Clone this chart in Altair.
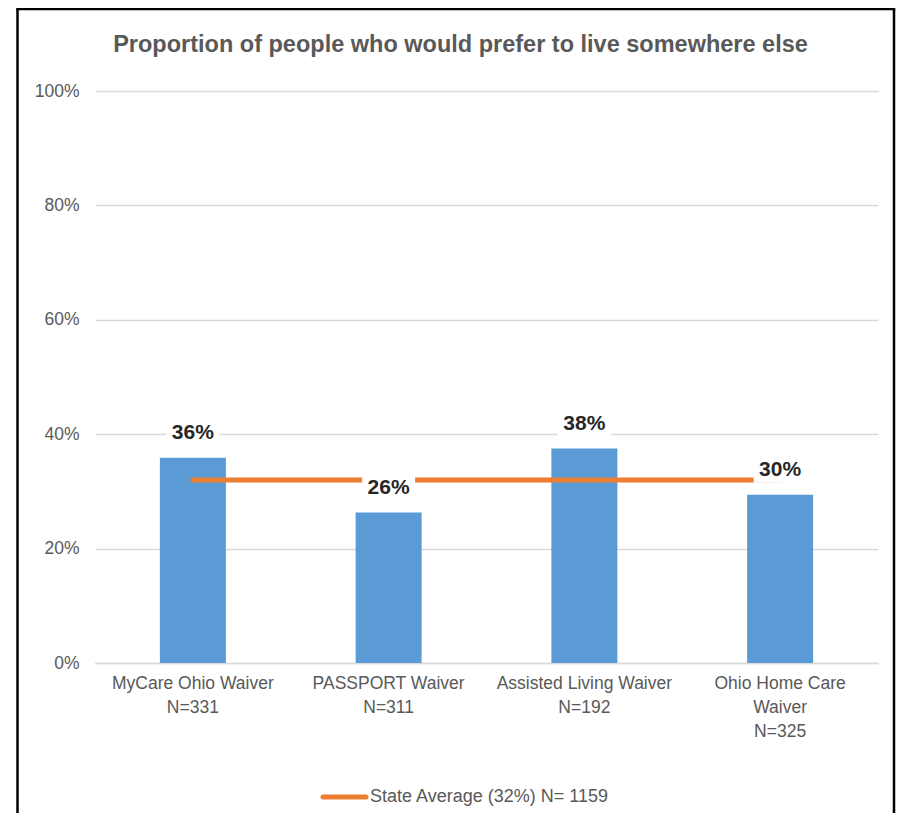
import altair as alt
import pandas as pd

categories = ["MyCare Ohio Waiver|N=331", "PASSPORT Waiver|N=311",
              "Assisted Living Waiver|N=192", "Ohio Home Care|Waiver|N=325"]
values = [0.359, 0.263, 0.375, 0.294]
labels = ["36%", "26%", "38%", "30%"]
state_avg = [0.32, 0.32, 0.32, 0.32]
y_ticks = [0, 0.2, 0.4, 0.6, 0.8, 1.0]
title_text = "Proportion of people who would prefer to live somewhere else"
legend_text = "State Average (32%) N= 1159"

FONT = "Liberation Sans, Arial"
W, H = 783, 572

df = pd.DataFrame({"cat": categories, "val": values, "lab": labels, "avg": state_avg})

xenc = alt.X("cat:N", sort=categories, title=None,
             scale=alt.Scale(paddingInner=0, paddingOuter=0),
             axis=alt.Axis(labelExpr="split(datum.label, '|')", labelAngle=0, labelLimit=0,
                           labelFont=FONT, labelFontSize=17.5, labelColor="#595959",
                           labelLineHeight=24, labelPadding=11, ticks=False,
                           domainColor="#D9D9D9", domainWidth=1.5))
yscale = alt.Scale(domain=[0, 1])

base = alt.Chart(df)

bars = base.mark_bar(color="#5B9BD5", width=66).encode(
    x=xenc,
    y=alt.Y("val:Q", scale=yscale, title=None,
            axis=alt.Axis(values=y_ticks, format=".0%", labelFont=FONT, labelFontSize=17.5,
                          labelColor="#595959", labelPadding=16, ticks=False, domain=False,
                          gridColor="#D9D9D9", gridWidth=1.5)),
)

line = base.mark_line(color="#ED7D31", strokeWidth=5, strokeCap="round").encode(
    x=alt.X("cat:N", sort=categories), y=alt.Y("avg:Q", scale=yscale))

boxes = base.mark_point(shape="M-1,-0.49L1,-0.49L1,0.49L-1,0.49Z", filled=True,
                        color="white", opacity=1, size=53 * 53, yOffset=-25).encode(
    x=alt.X("cat:N", sort=categories), y=alt.Y("val:Q", scale=yscale))

texts = base.mark_text(font=FONT, fontSize=21, fontWeight="bold", color="#262626",
                       baseline="middle", dy=-25).encode(
    x=alt.X("cat:N", sort=categories), y=alt.Y("val:Q", scale=yscale), text="lab:N")

one = alt.Data(values=[{"a": 1}])

title = alt.Chart(one).mark_text(font=FONT, fontSize=23.5, fontWeight="bold", color="#595959",
                                 baseline="middle", align="center").encode(
    x=alt.value(365.5), y=alt.value(-46), text=alt.value(title_text))

leg_line = alt.Chart(one).mark_rule(color="#ED7D31", strokeWidth=5, strokeCap="round").encode(
    x=alt.value(228), x2=alt.value(271), y=alt.value(706))
leg_text = alt.Chart(one).mark_text(font=FONT, fontSize=18, color="#595959",
                                    baseline="middle", align="left").encode(
    x=alt.value(275), y=alt.value(706), text=alt.value(legend_text))

frame_left = alt.Chart(one).mark_rule(color="black", strokeWidth=2.5).encode(
    x=alt.value(-77.5), y=alt.value(-82), y2=alt.value(800))
frame_top = alt.Chart(one).mark_rule(color="black", strokeWidth=2.5).encode(
    x=alt.value(-78.75), x2=alt.value(800.25), y=alt.value(-82))
frame_right = alt.Chart(one).mark_rule(color="black", strokeWidth=2.5).encode(
    x=alt.value(799), y=alt.value(-82), y2=alt.value(800))

chart = alt.layer(bars, line, boxes, texts, title, leg_line, leg_text,
                  frame_left, frame_top, frame_right).properties(
    width=W, height=H,
    autosize=alt.AutoSizeParams(type="none"),
    padding={"left": 87, "top": 83, "right": 18, "bottom": 150},
    background="white",
).configure_view(stroke=None)

chart.save("out.html", embed_options={"renderer": "svg", "actions": False})
